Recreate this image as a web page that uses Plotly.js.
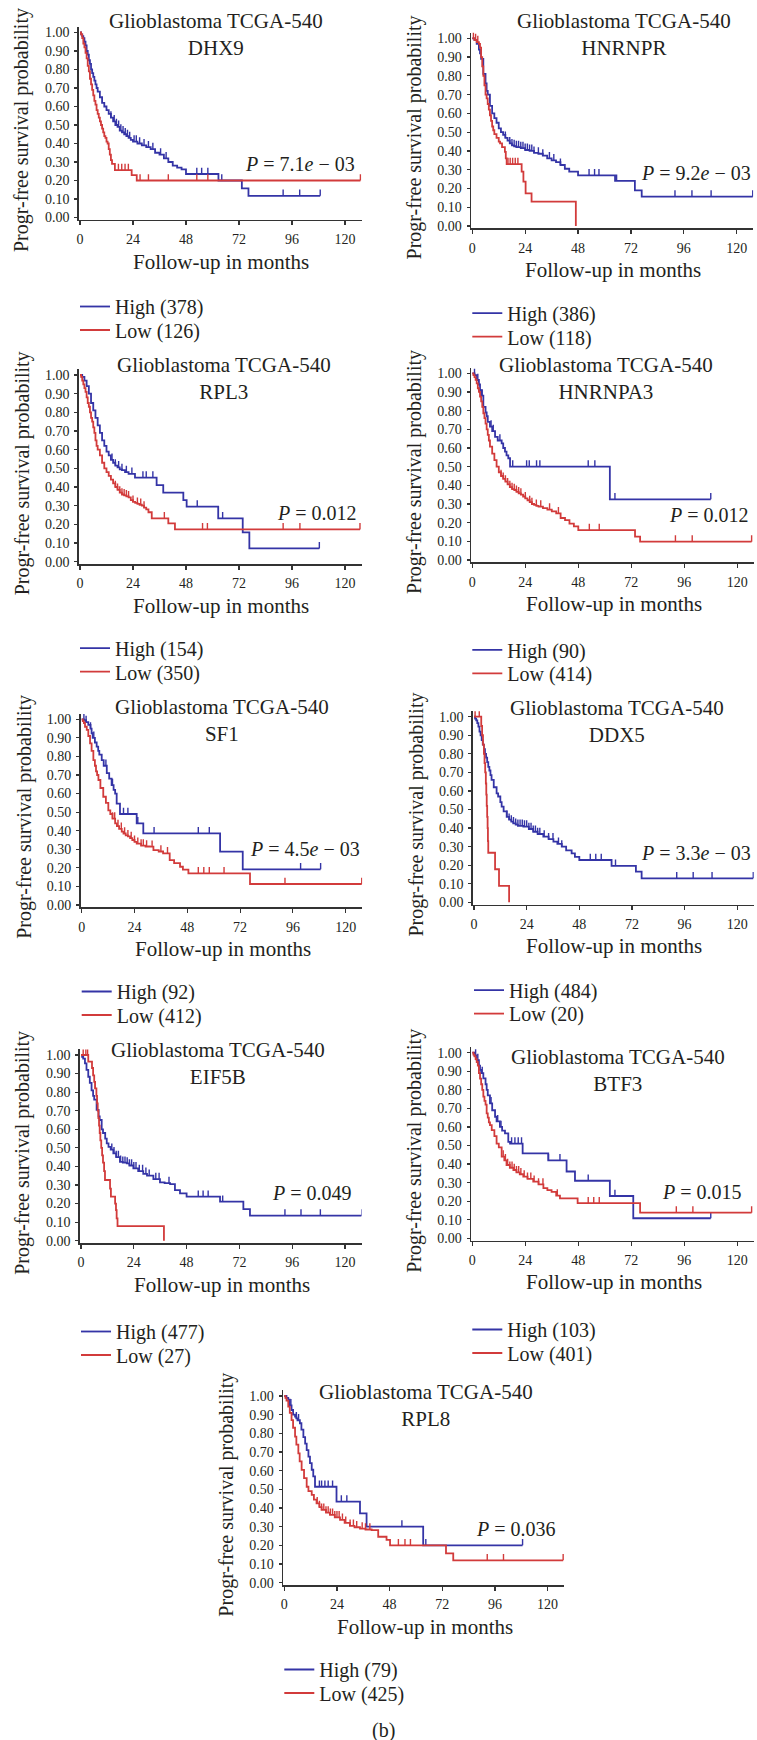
<!DOCTYPE html>
<html><head><meta charset="utf-8">
<script src="https://cdn.plot.ly/plotly-3.0.1.min.js"></script>
<style>html,body{margin:0;padding:0;background:#fff}#chart{width:757px;height:1740px}</style>
</head><body><div id="chart"></div>
<script>
// ---------- DATA ----------
const genes = ['DHX9','HNRNPR','RPL3','HNRNPA3','SF1','DDX5','EIF5B','BTF3','RPL8'];
const pValueLabels = ['7.1<i>e</i> − 03','9.2<i>e</i> − 03','0.012','0.012','4.5<i>e</i> − 03','3.3<i>e</i> − 03','0.049','0.015','0.036'];
const highLabels = ['High (378)','High (386)','High (154)','High (90)','High (92)','High (484)','High (477)','High (103)','High (79)'];
const lowLabels  = ['Low (126)','Low (118)','Low (350)','Low (414)','Low (412)','Low (20)','Low (27)','Low (401)','Low (425)'];
const xTickVals = [0,24,48,72,96,120];
const yTickVals = [0,0.1,0.2,0.3,0.4,0.5,0.6,0.7,0.8,0.9,1.0];

// DHX9
const dhx9HighTime = [0,0.5,1,1.5,2,2.5,3,3.5,4,4.5,5,5.5,6,6.5,7,7.5,8,9,10,11,12,13,14,15,16,17,18,19,20,21,22,23,24,26,28,30,32,34,36,38,40,42,44,46,48,62.7,73.3,76.3,108.8];
const dhx9HighSurv = [1,0.99,0.98,0.97,0.95,0.93,0.9,0.88,0.85,0.83,0.8,0.78,0.76,0.74,0.72,0.7,0.68,0.65,0.62,0.6,0.58,0.56,0.54,0.52,0.5,0.49,0.47,0.46,0.45,0.44,0.43,0.42,0.41,0.4,0.39,0.38,0.37,0.35,0.34,0.32,0.3,0.28,0.27,0.26,0.235,0.2,0.157,0.117,0.117];
const dhx9HighCensor = [14,15.5,16.5,17.5,18.5,19.5,20.5,21.5,22.5,24.5,25.5,27,29,31,33,36.5,39,52.9,55.1,57.9,64.2,92,99.5,108.8];
const dhx9LowTime = [0,0.5,1,1.5,2,2.5,3,3.5,4,4.5,5,5.5,6,6.5,7,7.5,8,8.5,9,9.5,10,10.5,11,11.5,12,12.5,13,13.5,14,14.5,15.8,23.4,25.7,127];
const dhx9LowSurv = [1,0.99,0.97,0.94,0.92,0.89,0.86,0.82,0.79,0.75,0.72,0.69,0.66,0.63,0.61,0.58,0.56,0.54,0.52,0.5,0.48,0.46,0.44,0.43,0.41,0.4,0.37,0.34,0.31,0.29,0.256,0.229,0.2,0.2];
const dhx9LowCensor = [17.4,18.9,20.4,21.9,27.2,31,40,52.9,57.9,127];

// HNRNPR
const hnrnprHighTime = [0,1,2,3,3.5,4,5,6,6.5,7,8,9,10,11,12,13,14,15,16,17,18,19,20,22,24,26,28,30,32,34,36,38,40,42,44,48,64.8,73.8,76.9,127.3];
const hnrnprHighSurv = [1,0.99,0.97,0.94,0.92,0.89,0.81,0.76,0.72,0.7,0.64,0.6,0.575,0.55,0.52,0.5,0.485,0.47,0.455,0.44,0.43,0.425,0.42,0.415,0.405,0.4,0.39,0.385,0.375,0.36,0.35,0.34,0.325,0.305,0.29,0.27,0.24,0.19,0.156,0.156];
const hnrnprHighCensor = [15,17,18,19,20,21,22,23,24,25,26,27,28,30,32,35,37,40,53,55.5,57.5,65.5,92,99.7,108.4,127.3];
const hnrnprLowTime = [0,1,2,3,3.5,4,4.5,5,5.5,6,6.5,7,7.5,8,8.5,9,9.5,10,11,12,12.6,13.5,14.8,15.2,15.6,22.4,23.2,24.2,26.9,47];
const hnrnprLowSurv = [1,0.99,0.98,0.97,0.95,0.9,0.85,0.8,0.75,0.7,0.68,0.65,0.62,0.59,0.56,0.53,0.51,0.49,0.47,0.45,0.44,0.42,0.395,0.36,0.33,0.29,0.236,0.174,0.13,0];
const hnrnprLowCensor = [0.5,1.5,2.5,16.2,17.2,18.3,19.5,20.7];

// RPL3
const rpl3HighTime = [0,1,2,3,4,5,6,7,8,9,10,11,12,13,14,15,16,17,18,19,20.4,22,24.9,34.7,37.7,46.8,48.3,62.6,73.7,76.7,108.4];
const rpl3HighSurv = [1,0.99,0.97,0.94,0.9,0.85,0.81,0.77,0.73,0.69,0.65,0.62,0.59,0.57,0.545,0.53,0.515,0.505,0.495,0.49,0.48,0.47,0.45,0.41,0.37,0.33,0.295,0.232,0.157,0.071,0.071];
const rpl3HighCensor = [14.5,16,17.5,19,21,23.5,28.5,30,33,53.1,64.6,108.4];
const rpl3LowTime = [0,0.5,1,1.5,2,2.5,3,3.5,4,4.5,5,5.5,6,6.5,7,7.5,8,9,10,11,12,13,14,15,16,17,18,19,20,21,22,23,24,25,26,27,28,29,30,31,32.5,40,43,126.8];
const rpl3LowSurv = [1,0.99,0.97,0.95,0.93,0.91,0.88,0.85,0.83,0.8,0.77,0.75,0.72,0.69,0.65,0.62,0.6,0.57,0.53,0.5,0.48,0.46,0.44,0.42,0.4,0.385,0.37,0.36,0.355,0.35,0.345,0.33,0.32,0.315,0.31,0.305,0.3,0.29,0.28,0.265,0.232,0.205,0.173,0.173];
const rpl3LowCensor = [16,17,18,19,20,21,22,24,26,27.5,29,38.2,55.5,57.7,92,99.6,126.8];

// HNRNPA3
const hnrnpa3HighTime = [0,1,2,3,3.5,4,5,6,6.5,7,8,9,10.3,11.5,13.3,14,14.8,15.5,16.3,17.1,62.3,108];
const hnrnpa3HighSurv = [1,0.99,0.964,0.94,0.91,0.88,0.82,0.79,0.77,0.74,0.714,0.69,0.66,0.64,0.625,0.6,0.58,0.56,0.545,0.5,0.325,0.325];
const hnrnpa3HighCensor = [1,2.5,4.5,8.5,9.5,12.5,18.3,24.6,25.8,29.1,30.6,52.5,55.5,64.6,108];
const hnrnpa3LowTime = [0,0.5,1,1.5,2,2.5,3,3.5,4,4.5,5,5.5,6,6.5,7,7.5,8,9,10,11,12,13,14,15,16,17,18,19,20,21,22,23,24,25,26,27,28,29,30,32,34,36,38,40,42,44,46,48,73.7,76,126.5];
const hnrnpa3LowSurv = [1,0.99,0.98,0.965,0.946,0.92,0.9,0.875,0.85,0.82,0.786,0.76,0.73,0.7,0.67,0.64,0.607,0.57,0.535,0.5,0.47,0.45,0.435,0.42,0.405,0.39,0.38,0.375,0.365,0.357,0.35,0.34,0.33,0.32,0.31,0.3,0.295,0.29,0.286,0.278,0.27,0.26,0.25,0.225,0.214,0.195,0.18,0.16,0.125,0.098,0.098];
const hnrnpa3LowCensor = [13,14,15,16,17,18,19,20,21,22,24,26,27,29,31,35,39,53,57.5,92,99.6,126.5];

// SF1
const sf1HighTime = [0,1,2,3,4,4.5,5,6,6.8,7.5,8,9.1,10,11.4,12.5,13.6,14.5,15.2,15.9,17.4,25,28,62.9,73.2,108.6];
const sf1HighSurv = [1,0.995,0.985,0.97,0.95,0.925,0.9,0.875,0.853,0.83,0.81,0.78,0.75,0.71,0.68,0.646,0.62,0.6,0.546,0.49,0.44,0.386,0.287,0.192,0.192];
const sf1HighCensor = [1,2,4,5.5,11,14,19,21,25.5,32.9,53,58,99.5,108.6];
const sf1LowTime = [0,0.5,1,1.5,2.3,3,3.8,4.5,5.3,6,6.5,7,7.6,8.5,9.8,11,12.1,13,14,15.2,16,17,18.2,19,20,21,22,23,24,25,27,29,31,32.6,35,37,40,42,44.7,46,48.5,76.5,127.3];
const sf1LowSurv = [1,0.99,0.98,0.96,0.943,0.91,0.87,0.83,0.78,0.75,0.72,0.7,0.673,0.63,0.583,0.55,0.51,0.49,0.465,0.44,0.425,0.41,0.395,0.385,0.375,0.37,0.36,0.35,0.34,0.33,0.32,0.315,0.314,0.296,0.288,0.278,0.242,0.225,0.206,0.19,0.17,0.113,0.113];
const sf1LowCensor = [14,15,16.5,18,19.5,21,22.5,24,25.5,27,28,29.5,32,36,39,53,55.5,58,64.7,92.4,127.3];

// DDX5
const ddx5HighTime = [0,0.5,1,1.5,2,2.5,3,3.5,4,4.5,5,5.5,6,6.5,7,7.5,8,9,10.3,11,12,12.6,13.5,14.9,16,17,17.9,19,20,22.5,25,27,29,31.6,34,36.2,38,40,42,44.5,46,48,62.7,73.8,76.4,127.3];
const ddx5HighSurv = [1,0.99,0.98,0.965,0.946,0.92,0.9,0.874,0.85,0.825,0.8,0.78,0.755,0.73,0.71,0.685,0.66,0.62,0.587,0.57,0.54,0.515,0.49,0.46,0.445,0.435,0.425,0.418,0.412,0.408,0.395,0.38,0.368,0.354,0.34,0.327,0.315,0.3,0.28,0.264,0.245,0.228,0.196,0.165,0.129,0.129];
const ddx5HighCensor = [15,16,17,18,19,20,21,22,23,24,25,26,27,28,29,30,32,34,36,38.5,40,53,55.5,58,64.5,92.4,99.9,108.5,127.3];
const ddx5LowTime = [0,3.3,3.7,4.1,4.5,4.8,5.1,5.4,5.6,5.8,6,6.2,6.35,6.5,9.6,11.4,16];
const ddx5LowSurv = [1,0.95,0.9,0.85,0.8,0.75,0.7,0.64,0.58,0.52,0.46,0.4,0.33,0.267,0.178,0.089,0];
const ddx5LowCensor = [0.5,2.4];

// EIF5B
const eif5bHighTime = [0,0.5,1,1.8,2.5,3.3,4,4.8,5.5,6,7.1,8,8.5,9.4,10,11,11.7,12.5,13.5,14.7,16,17.7,19,20.8,22,23.8,26,28.3,30,32.9,35.9,38,40.5,42.7,45,48,63.2,73.8,76.8,127.6];
const eif5bHighSurv = [1,0.99,0.98,0.955,0.92,0.883,0.85,0.81,0.78,0.76,0.704,0.67,0.65,0.6,0.58,0.55,0.524,0.505,0.49,0.47,0.45,0.425,0.42,0.416,0.405,0.39,0.375,0.36,0.35,0.332,0.314,0.31,0.305,0.272,0.255,0.237,0.21,0.17,0.135,0.135];
const eif5bHighCensor = [14,15,16,17,18,19,20,21,22,23,24,25,26.5,28,29.5,31,34,35.5,40,53.3,55.5,57.8,64.4,92.7,100,108.8,127.6];
const eif5bLowTime = [0,3.3,5,5.5,6,6.4,7,7.3,7.6,7.9,8.2,8.5,8.8,9.2,9.6,10,10.5,10.9,13.2,13.6,15.5,15.9,16.2,16.6,37.7];
const eif5bLowSurv = [1,0.964,0.93,0.89,0.855,0.82,0.78,0.74,0.7,0.66,0.62,0.58,0.54,0.5,0.46,0.42,0.375,0.327,0.28,0.237,0.2,0.165,0.12,0.078,0];
const eif5bLowCensor = [1,2.2,3,6.5];

// BTF3
const btf3HighTime = [0,1,2,3,3.5,4,5,6,6.5,7,8,9,10.3,11,12.5,13.5,14.8,16.3,17.1,22.8,34.4,42.7,46.5,62.3,72.9,108];
const btf3HighSurv = [1,0.985,0.96,0.93,0.907,0.89,0.862,0.83,0.8,0.77,0.727,0.69,0.655,0.63,0.6,0.58,0.565,0.52,0.51,0.458,0.42,0.36,0.31,0.228,0.108,0.108];
const btf3HighCensor = [1.5,2.5,4.5,8.5,11.5,13,17.8,19.3,20.8,22.3,34.5,39.7,52.5,64.6,108];
const btf3LowTime = [0,0.5,1,1.5,2,2.5,3,3.5,4,4.5,5,5.5,6,6.5,7,7.5,8,8.8,10,11,12,13.3,14.5,15.5,17,18.6,20,21.5,23.1,25,27.6,30,32.2,34,35.9,38,39.7,47.7,76,126.5];
const btf3LowSurv = [1,0.99,0.98,0.965,0.95,0.93,0.89,0.86,0.83,0.8,0.763,0.74,0.72,0.673,0.65,0.625,0.61,0.583,0.55,0.51,0.49,0.44,0.42,0.395,0.38,0.368,0.355,0.345,0.332,0.32,0.305,0.29,0.27,0.26,0.25,0.23,0.215,0.189,0.138,0.138];
const btf3LowCensor = [14,15,16,17,18,19,20,21,22,23.5,25,26.5,28,30,32,38.5,52.5,55,57.5,92.4,99.9,126.5];

// RPL8
const rpl8HighTime = [0,1,1.8,2.5,3.3,4,4.9,5.5,6,7.1,7.8,8.7,9.5,10.2,11,11.7,12.5,13.2,14,23.8,34.5,37.5,63.3,108.6];
const rpl8HighSurv = [1,0.99,0.98,0.95,0.925,0.9,0.89,0.88,0.87,0.854,0.82,0.78,0.745,0.71,0.675,0.64,0.605,0.57,0.514,0.434,0.371,0.3,0.2,0.2];
const rpl8HighCensor = [3,5.5,6.5,16,17,18.5,20,22,26,28.5,53.6,64.5,108.6];
const rpl8LowTime = [0,0.5,1,1.8,2.5,3.3,4,4.9,5.5,6.4,7,7.9,9,10.2,11,12.5,13.5,14.7,16,17,19,20.8,23,25.4,27.5,29.9,32,34.5,37,39.8,42.8,46.6,48.2,73.7,77,127.1];
const rpl8LowSurv = [1,0.99,0.975,0.943,0.91,0.871,0.83,0.782,0.74,0.693,0.65,0.604,0.56,0.514,0.49,0.47,0.445,0.425,0.405,0.39,0.375,0.363,0.35,0.336,0.32,0.304,0.297,0.29,0.285,0.282,0.246,0.229,0.2,0.157,0.12,0.12];
const rpl8LowCensor = [15,16,17,18,19,20,21,22,23,24,25,26.5,28,30,31.5,33,35.5,37,39,52,55,57.5,92.5,99.9,127.1];

const highTimes = [dhx9HighTime,hnrnprHighTime,rpl3HighTime,hnrnpa3HighTime,sf1HighTime,ddx5HighTime,eif5bHighTime,btf3HighTime,rpl8HighTime];
const highSurvs = [dhx9HighSurv,hnrnprHighSurv,rpl3HighSurv,hnrnpa3HighSurv,sf1HighSurv,ddx5HighSurv,eif5bHighSurv,btf3HighSurv,rpl8HighSurv];
const highCensors = [dhx9HighCensor,hnrnprHighCensor,rpl3HighCensor,hnrnpa3HighCensor,sf1HighCensor,ddx5HighCensor,eif5bHighCensor,btf3HighCensor,rpl8HighCensor];
const lowTimes = [dhx9LowTime,hnrnprLowTime,rpl3LowTime,hnrnpa3LowTime,sf1LowTime,ddx5LowTime,eif5bLowTime,btf3LowTime,rpl8LowTime];
const lowSurvs = [dhx9LowSurv,hnrnprLowSurv,rpl3LowSurv,hnrnpa3LowSurv,sf1LowSurv,ddx5LowSurv,eif5bLowSurv,btf3LowSurv,rpl8LowSurv];
const lowCensors = [dhx9LowCensor,hnrnprLowCensor,rpl3LowCensor,hnrnpa3LowCensor,sf1LowCensor,ddx5LowCensor,eif5bLowCensor,btf3LowCensor,rpl8LowCensor];

// ---------- LAYOUT GEOMETRY (pixels / positions, not data) ----------
const W = 757, H = 1740;
const geom = [
  {x0:80,    ppm:2.208, y1:32.5,   y0:217.5,  tx:61.7, ty:0.989, px:125.3, py:0.289, leg:87.5},
  {x0:472.3, ppm:2.203, y1:38.3,   y0:226,    tx:68.8, ty:1.022, px:127.5, py:0.281, leg:85.7},
  {x0:80,    ppm:2.208, y1:375,    y0:561.7,  tx:65.4, ty:0.982, px:126.3, py:0.262, leg:85},
  {x0:472.3, ppm:2.208, y1:373.3,  y0:560,    tx:60.6, ty:0.973, px:126.3, py:0.241, leg:88.3},
  {x0:81.7,  ppm:2.2,   y1:719.3,  y0:905,    tx:63.6, ty:0.994, px:127.5, py:0.300, leg:85},
  {x0:474,   ppm:2.194, y1:716.7,  y0:902.3,  tx:65.4, ty:0.976, px:127.3, py:0.267, leg:86.3},
  {x0:81,    ppm:2.2,   y1:1055,   y0:1240.7, tx:62.4, ty:0.955, px:124.1, py:0.255, leg:89.3},
  {x0:472.3, ppm:2.208, y1:1052.7, y0:1238.3, tx:65.9, ty:0.904, px:123.0, py:0.251, leg:89.7},
  {x0:284.3, ppm:2.194, y1:1396,   y0:1582.7, tx:64.4, ty:0.947, px:124.6, py:0.286, leg:85.3}
];
const XR = [-0.5, 127.5];
const YR = [-0.012, 1.03];
const FONT = "'Liberation Serif', 'DejaVu Serif', serif";
const TXT = '#231f20';
const AX = '#333333';
const BLUE = '#3434a6';
const RED = '#d23b3b';
const TICKLEN = 0.034;

function survAt(times, surv, t) {
  let v = surv[0];
  for (let i = 0; i < times.length; i++) { if (times[i] <= t) v = surv[i]; }
  return v;
}

const data = [];
const layout = {
  width: W, height: H,
  margin: {l:0, r:0, t:0, b:0},
  paper_bgcolor: '#ffffff', plot_bgcolor: 'rgba(0,0,0,0)',
  font: {family: FONT, color: TXT},
  showlegend: true,
  annotations: [],
  hovermode: false
};

geom.forEach((g, i) => {
  const k = i + 1;
  const xa = k === 1 ? 'x' : 'x' + k;
  const ya = k === 1 ? 'y' : 'y' + k;
  const xName = k === 1 ? 'xaxis' : 'xaxis' + k;
  const yName = k === 1 ? 'yaxis' : 'yaxis' + k;
  const hPx = g.y0 - g.y1;
  const xl = (g.x0 + XR[0] * g.ppm) / W, xr = (g.x0 + XR[1] * g.ppm) / W;
  const yb = 1 - (g.y0 - YR[0] * hPx) / H, yt = 1 - (g.y0 - YR[1] * hPx) / H;

  layout[xName] = {
    domain: [xl, xr], range: XR, anchor: ya, tickvals: xTickVals,
    ticks: 'outside', ticklen: 4, tickwidth: 1.2, tickcolor: AX,
    showline: true, linecolor: AX, linewidth: 1.6, showgrid: false, zeroline: false,
    tickfont: {family: FONT, size: 14, color: TXT}, ticklabelstandoff: 2, fixedrange: true
  };
  layout[yName] = {
    domain: [yb, yt], range: YR, anchor: xa, tickvals: yTickVals, tickformat: '.2f',
    ticks: 'outside', ticklen: 3, tickwidth: 1.2, tickcolor: AX,
    showline: true, linecolor: AX, linewidth: 1.6, showgrid: false, zeroline: false,
    tickfont: {family: FONT, size: 14, color: TXT}, ticklabelstandoff: 2, fixedrange: true
  };

  const legHigh = (2 * k - 1) === 1 ? 'legend' : 'legend' + (2 * k - 1);
  const legLow = 'legend' + (2 * k);
  const legBase = {xanchor: 'left', yanchor: 'top', bgcolor: 'rgba(0,0,0,0)', borderwidth: 0,
                   font: {family: FONT, size: 20, color: TXT}, itemclick: false, itemdoubleclick: false};
  layout[legHigh] = Object.assign({}, legBase, {x: (g.x0 - 5) / W, y: 1 - (g.y0 + g.leg - 18) / H});
  layout[legLow] = Object.assign({}, legBase, {x: (g.x0 - 5) / W, y: 1 - (g.y0 + g.leg + 23.5 - 18) / H});

  const groups = [
    {t: highTimes[i], s: highSurvs[i], c: highCensors[i], color: BLUE, name: highLabels[i], leg: legHigh},
    {t: lowTimes[i],  s: lowSurvs[i],  c: lowCensors[i],  color: RED,  name: lowLabels[i],  leg: legLow}
  ];
  groups.forEach(gr => {
    data.push({
      type: 'scatter', mode: 'lines', x: gr.t, y: gr.s, xaxis: xa, yaxis: ya,
      line: {shape: 'hv', color: gr.color, width: 1.8},
      name: gr.name, legend: gr.leg, showlegend: true, cliponaxis: false
    });
    data.push({
      type: 'scatter', mode: 'markers', x: gr.c, y: gr.c.map(t => survAt(gr.t, gr.s, t)),
      xaxis: xa, yaxis: ya, marker: {size: 2, opacity: 0, color: gr.color},
      error_y: {type: 'data', symmetric: false, array: gr.c.map(() => TICKLEN),
                arrayminus: gr.c.map(() => 0), width: 0, thickness: 1.4, color: gr.color},
      showlegend: false, cliponaxis: false, hoverinfo: 'skip'
    });
  });

  // panel title
  layout.annotations.push({
    xref: xa, yref: ya, x: g.tx, y: g.ty, showarrow: false, xanchor: 'center', yanchor: 'middle',
    text: 'Glioblastoma TCGA-540<br>' + genes[i], font: {family: FONT, size: 21, color: TXT}
  });
  // p-value
  layout.annotations.push({
    xref: xa, yref: ya, x: g.px, y: g.py, showarrow: false, xanchor: 'right', yanchor: 'middle',
    text: '<i>P</i> = ' + pValueLabels[i], font: {family: FONT, size: 20, color: TXT}
  });
  // y axis title
  layout.annotations.push({
    xref: 'paper', yref: 'paper', x: (g.x0 - 58) / W, y: 1 - ((g.y0 + g.y1) / 2 + 5) / H,
    showarrow: false, textangle: -90, xanchor: 'center', yanchor: 'middle',
    text: 'Progr-free survival probability', font: {family: FONT, size: 20, color: TXT}
  });
  // x axis title
  layout.annotations.push({
    xref: xa, yref: 'paper', x: 64, y: 1 - (g.y0 + 44) / H,
    showarrow: false, xanchor: 'center', yanchor: 'middle',
    text: 'Follow-up in months', font: {family: FONT, size: 21, color: TXT}
  });
});

layout.annotations.push({
  xref: 'paper', yref: 'paper', x: 383 / W, y: 1 - 1730 / H, showarrow: false,
  xanchor: 'center', yanchor: 'middle', text: '(b)', font: {family: FONT, size: 20, color: TXT}
});

Plotly.newPlot('chart', data, layout, {staticPlot: true, displayModeBar: false});
</script>
</body></html>
